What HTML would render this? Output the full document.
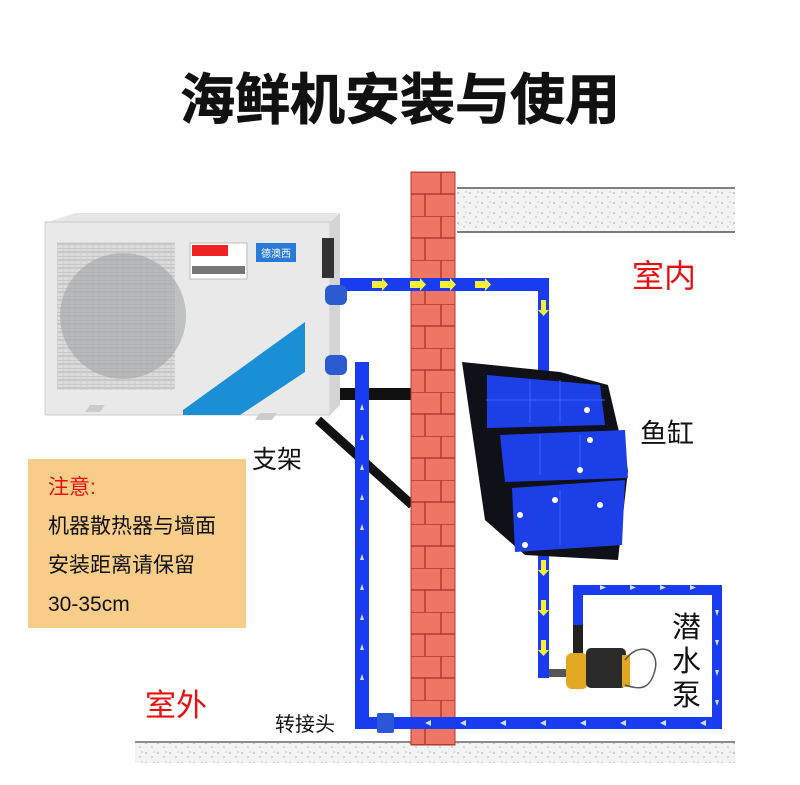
<!DOCTYPE html>
<html><head><meta charset="utf-8"><style>
html,body{margin:0;padding:0;background:#fff;}
svg{display:block;}
text{font-family:"Liberation Sans","Noto Sans CJK SC",sans-serif;}
</style></head><body>
<svg width="800" height="785" viewBox="0 0 800 785" xmlns="http://www.w3.org/2000/svg">
<defs>
<pattern id="brick" x="411" y="172" width="44" height="44" patternUnits="userSpaceOnUse">
<rect width="44" height="44" fill="#ef7565"/>
<path d="M0 0H44M0 22H44M30 0V22M14 22V44" stroke="#b2392c" stroke-width="1.5"/>
</pattern>
<pattern id="speck" width="12" height="10" patternUnits="userSpaceOnUse">
<rect width="12" height="10" fill="#f3f3f3"/>
<circle cx="2" cy="3" r="0.8" fill="#999"/><circle cx="8" cy="7" r="0.7" fill="#aaa"/><circle cx="10" cy="2" r="0.5" fill="#888"/>
</pattern>
<pattern id="grill" width="6" height="8" patternUnits="userSpaceOnUse">
<rect width="6" height="8" fill="#dcdcdc"/><path d="M0 0H6M0 4H6" stroke="#b5b5b5" stroke-width="1"/><path d="M3 0V8" stroke="#c8c8c8" stroke-width="0.7"/>
</pattern>
</defs>
<rect width="800" height="785" fill="#fff"/>
<text x="400" y="119" text-anchor="middle" font-size="55" font-weight="bold" fill="#111" stroke="#111" stroke-width="0.8">海鲜机安装与使用</text>

<rect x="457" y="189" width="278" height="43" fill="url(#speck)"/>
<line x1="457" y1="188" x2="735" y2="188" stroke="#555" stroke-width="1.5"/>
<line x1="457" y1="232" x2="735" y2="232" stroke="#555" stroke-width="1.5"/>
<rect x="135" y="743" width="600" height="20" fill="url(#speck)"/>
<line x1="135" y1="742" x2="735" y2="742" stroke="#666" stroke-width="1.5"/>

<rect x="338" y="388" width="74" height="12" fill="#111"/>
<line x1="318" y1="420" x2="412" y2="505" stroke="#111" stroke-width="9"/>

<rect x="411" y="172" width="44" height="573" fill="url(#brick)" stroke="#b2392c" stroke-width="1"/>

<g fill="#1a3cf0">
<rect x="340" y="278" width="209" height="13"/>
<rect x="538" y="278" width="11" height="400"/>
<rect x="355" y="362" width="14" height="366"/>
<rect x="355" y="717" width="367" height="12"/>
<rect x="712" y="585" width="10" height="144"/>
<rect x="573" y="585" width="149" height="10"/>
<rect x="573" y="585" width="10" height="40"/>
</g>
<g fill="#f6ef3a">
<path d="M372 281h10v-3l6 6.5-6 6.5v-3h-10z"/><path d="M410 281h10v-3l6 6.5-6 6.5v-3h-10z"/>
<path d="M440 281h10v-3l6 6.5-6 6.5v-3h-10z"/><path d="M475 281h10v-3l6 6.5-6 6.5v-3h-10z"/>
<path d="M541 300v10h-3l5.5 6 5.5-6h-3v-10z"/><path d="M541 560v10h-3l5.5 6 5.5-6h-3v-10z"/>
<path d="M541 600v10h-3l5.5 6 5.5-6h-3v-10z"/><path d="M541 640v10h-3l5.5 6 5.5-6h-3v-10z"/>
</g>
<g fill="#cfe0ff">
<path d="M360 410l2-6 2 6zM360 440l2-6 2 6zM360 470l2-6 2 6zM360 500l2-6 2 6zM360 530l2-6 2 6zM360 560l2-6 2 6zM360 590l2-6 2 6zM360 620l2-6 2 6zM360 650l2-6 2 6zM360 680l2-6 2 6z"/>
<path d="M425 723l6-3v6zM460 723l6-3v6zM500 723l6-3v6zM540 723l6-3v6zM580 723l6-3v6zM620 723l6-3v6zM660 723l6-3v6zM700 723l6-3v6z"/>
<path d="M600 590l6-2.5-6-2.5zM630 590l6-2.5-6-2.5zM660 590l6-2.5-6-2.5zM690 590l6-2.5-6-2.5z"/>
<path d="M715 610l2 6 2-6zM715 640l2 6 2-6zM715 670l2 6 2-6zM715 700l2 6 2-6z"/>
</g>
<rect x="377" y="713" width="17" height="20" rx="2" fill="#2a56d8"/>

<polygon points="45,223 75,213 340,213 330,222" fill="#e6e6e6"/>
<rect x="45" y="222" width="285" height="193" fill="#e9e9ea" stroke="#ccc"/>
<polygon points="330,222 340,213 340,405 330,415" fill="#d4d4d6"/>
<rect x="57" y="242" width="118" height="148" fill="url(#grill)"/>
<circle cx="123" cy="316" r="63" fill="#9a9ea3" opacity="0.55"/>
<rect x="190" y="243" width="57" height="36" fill="#fff" stroke="#bbb"/>
<rect x="192" y="245" width="36" height="11" fill="#e22"/>
<rect x="192" y="266" width="53" height="8" fill="#777"/>
<rect x="256" y="243" width="40" height="19" fill="#2a78d8"/>
<text x="276" y="257" text-anchor="middle" font-size="10" fill="#fff">德澳西</text>
<polygon points="183,410 305,322 305,372 240,415 183,415" fill="#1a8fd6"/>
<rect x="322" y="238" width="12" height="40" fill="#333"/>
<rect x="325" y="285" width="22" height="20" rx="6" fill="#2a5bd0"/>
<rect x="325" y="355" width="22" height="20" rx="6" fill="#2a5bd0"/>
<polygon points="85,412 100,412 105,405 90,405" fill="#ccc"/>
<polygon points="255,420 272,420 277,413 260,413" fill="#ccc"/>

<polygon points="462,362 560,372 608,385 628,470 618,560 525,555 485,520" fill="#101018"/>
<polygon points="487,375 600,385 605,425 487,428" fill="#1c3fe8"/>
<polygon points="500,435 625,430 628,478 505,482" fill="#1c3fe8"/>
<polygon points="512,488 625,480 622,545 515,552" fill="#1c3fe8"/>
<path d="M486 400H605M530 380V423M560 380V423M540 435V475M580 435V475M560 490V545" stroke="#3b62ff" stroke-width="1"/>
<g fill="#fff"><circle cx="587" cy="410" r="3"/><circle cx="590" cy="440" r="3"/><circle cx="580" cy="470" r="3"/><circle cx="555" cy="500" r="3"/><circle cx="520" cy="515" r="3"/><circle cx="600" cy="505" r="3"/><circle cx="525" cy="545" r="3"/></g>

<rect x="573" y="625" width="10" height="30" fill="#222"/>
<rect x="549" y="669" width="18" height="8" fill="#555"/>
<rect x="566" y="653" width="22" height="36" rx="6" fill="#e2a821"/>
<rect x="586" y="648" width="40" height="40" rx="5" fill="#2a2a2a"/>
<rect x="622" y="655" width="8" height="32" fill="#e2a821"/>
<path d="M625 660c15-20 35-10 30 10s-15 20-30 15" fill="none" stroke="#555" stroke-width="1.5"/>

<text x="632" y="287" font-size="32" fill="#e81010">室内</text>
<text x="640" y="443" font-size="27" fill="#111">鱼缸</text>
<text x="252" y="468" font-size="25" fill="#111">支架</text>
<text x="672" y="637" font-size="29" fill="#111">潜</text>
<text x="672" y="671" font-size="29" fill="#111">水</text>
<text x="672" y="705" font-size="29" fill="#111">泵</text>
<text x="145" y="716" font-size="31" fill="#e81010">室外</text>
<text x="275" y="731" font-size="20" fill="#111">转接头</text>

<rect x="28" y="459" width="218" height="169" fill="#f8cd8a"/>
<text x="48" y="494" font-size="21" fill="#e81010">注意:</text>
<text x="48" y="533" font-size="21" fill="#111">机器散热器与墙面</text>
<text x="48" y="572" font-size="21" fill="#111">安装距离请保留</text>
<text x="48" y="611" font-size="21" fill="#111">30-35cm</text>
</svg>
</body></html>
